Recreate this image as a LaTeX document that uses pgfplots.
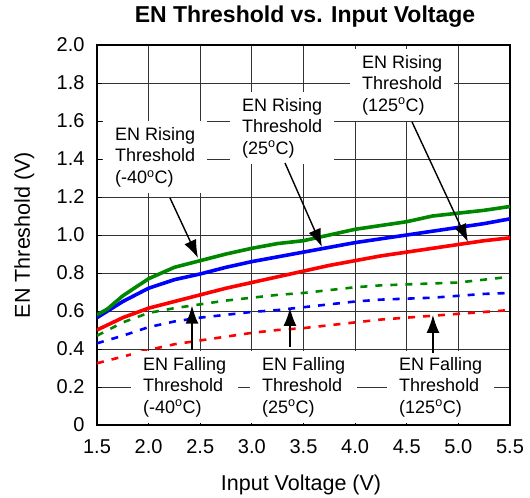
\documentclass[border=0pt]{standalone}
\usepackage{fontspec}
\setmainfont{Liberation Sans}
\usepackage{pgfplots}
\pgfplotsset{compat=1.18}
\usetikzlibrary{arrows.meta}
\definecolor{cgreen}{RGB}{0,135,0}
\definecolor{cblue}{RGB}{0,0,255}
\definecolor{cred}{RGB}{255,0,0}
\tikzset{
  lbl/.style={fill=white, align=left, inner xsep=12bp, inner ysep=6bp, font=\fontsize{18bp}{21.5bp}\selectfont, anchor=west},
  arr/.style={-{Latex[length=18bp,width=13bp]}, line width=1.4bp, black},
}
\begin{document}
\begin{tikzpicture}
\begin{axis}[
  name=ax,
  scale only axis, width=413bp, height=380bp,
  xmin=1.5, xmax=5.5, ymin=0, ymax=2,
  xtick={1.5,2.0,2.5,3.0,3.5,4.0,4.5,5.0,5.5},
  xticklabels={1.5,2.0,2.5,3.0,3.5,4.0,4.5,5.0,5.5},
  ytick={0,0.2,0.4,0.6,0.8,1.0,1.2,1.4,1.6,1.8,2.0},
  yticklabels={0,0.2,0.4,0.6,0.8,1.0,1.2,1.4,1.6,1.8,2.0},
  grid=major, grid style={black!80, line width=0.8bp},
  axis line style={line width=1.6bp},
  tick align=inside, major tick length=5bp,
  xtick pos=bottom, ytick pos=left,
  tick style={black, line width=0.8bp},
  ticklabel style={font=\fontsize{20bp}{23bp}\selectfont},
  xticklabel style={yshift=-11bp},
  yticklabel style={xshift=-9bp},
  title={EN Threshold vs. Input Voltage},
  title style={font=\bfseries\fontsize{23bp}{26bp}\selectfont, at={(axis description cs:0.5036,1.06)}, anchor=center},
  xlabel={Input Voltage (V)},
  xlabel style={font=\fontsize{21.5bp}{25bp}\selectfont, at={(axis description cs:0.494,-0.157)}, anchor=center},
  ylabel={EN Threshold (V)},
  ylabel style={font=\fontsize{21.5bp}{25bp}\selectfont, at={(axis description cs:-0.176,0.5)}, anchor=center},
]
% falling (dashed)
\addplot[cgreen, line width=2.6bp, dash pattern=on 7bp off 8bp] coordinates {
(1.5,0.47)(1.75,0.54)(2.0,0.59)(2.25,0.615)(2.5,0.635)(2.75,0.655)(3.0,0.67)(3.25,0.685)(3.5,0.695)(3.75,0.71)(4.0,0.725)(4.25,0.735)(4.5,0.74)(4.75,0.745)(5.0,0.75)(5.25,0.765)(5.5,0.78)};
\addplot[cblue, line width=2.6bp, dash pattern=on 7bp off 8bp] coordinates {
(1.5,0.43)(1.75,0.47)(2.0,0.515)(2.25,0.545)(2.5,0.565)(2.75,0.58)(3.0,0.595)(3.25,0.605)(3.5,0.62)(3.75,0.635)(4.0,0.65)(4.25,0.66)(4.5,0.665)(4.75,0.67)(5.0,0.68)(5.25,0.69)(5.5,0.695)};
\addplot[cred, line width=2.6bp, dash pattern=on 7bp off 8bp] coordinates {
(1.5,0.325)(1.75,0.36)(2.0,0.395)(2.25,0.425)(2.5,0.445)(2.75,0.465)(3.0,0.485)(3.25,0.50)(3.5,0.51)(3.75,0.525)(4.0,0.54)(4.25,0.555)(4.5,0.565)(4.75,0.575)(5.0,0.585)(5.25,0.595)(5.5,0.605)};
% rising (solid)
\addplot[cred, line width=3.6bp] coordinates {
(1.5,0.50)(1.75,0.565)(2.0,0.615)(2.25,0.65)(2.5,0.685)(2.75,0.72)(3.0,0.75)(3.25,0.78)(3.5,0.81)(3.75,0.84)(4.0,0.865)(4.25,0.89)(4.5,0.91)(4.75,0.93)(5.0,0.95)(5.25,0.97)(5.5,0.985)};
\addplot[cblue, line width=3.6bp] coordinates {
(1.5,0.565)(1.75,0.65)(2.0,0.72)(2.25,0.765)(2.5,0.795)(2.75,0.83)(3.0,0.86)(3.25,0.885)(3.5,0.91)(3.75,0.935)(4.0,0.96)(4.25,0.98)(4.5,1.0)(4.75,1.02)(5.0,1.04)(5.25,1.06)(5.5,1.085)};
\addplot[cgreen, line width=3.6bp] coordinates {
(1.5,0.58)(1.6,0.61)(1.75,0.68)(2.0,0.77)(2.25,0.83)(2.5,0.865)(2.75,0.90)(3.0,0.93)(3.25,0.955)(3.5,0.97)(3.75,1.0)(4.0,1.03)(4.25,1.05)(4.5,1.07)(4.75,1.10)(5.0,1.115)(5.25,1.13)(5.5,1.15)};
% labels
\node[lbl] at (axis cs:1.558,1.41) {EN Rising\\Threshold\\(-40\textsuperscript{o}C)};
\node[lbl] at (axis cs:2.788,1.563) {EN Rising\\Threshold\\(25\textsuperscript{o}C)};
\node[lbl] at (axis cs:3.95,1.79) {EN Rising\\Threshold\\(125\textsuperscript{o}C)};
\node[lbl] at (axis cs:1.829,0.2) {EN Falling\\Threshold\\(-40\textsuperscript{o}C)};
\node[lbl] at (axis cs:2.982,0.2) {EN Falling\\Threshold\\(25\textsuperscript{o}C)};
\node[lbl] at (axis cs:4.309,0.2) {EN Falling\\Threshold\\(125\textsuperscript{o}C)};
% arrows
\draw[arr] (axis cs:2.207,1.195) -- (axis cs:2.478,0.879);
\draw[arr] (axis cs:3.321,1.379) -- (axis cs:3.679,0.937);
\draw[arr] (axis cs:4.551,1.595) -- (axis cs:5.093,0.963);
\draw[arr] (axis cs:2.42,0.395) -- (axis cs:2.42,0.628);
\draw[arr] (axis cs:3.369,0.41) -- (axis cs:3.369,0.616);
\draw[arr] (axis cs:4.754,0.379) -- (axis cs:4.754,0.579);
\end{axis}
\pgfresetboundingbox
\path ([shift={(-97bp,-73bp)}]ax.south west) rectangle ([shift={(20bp,45bp)}]ax.north east);
\end{tikzpicture}
\end{document}
